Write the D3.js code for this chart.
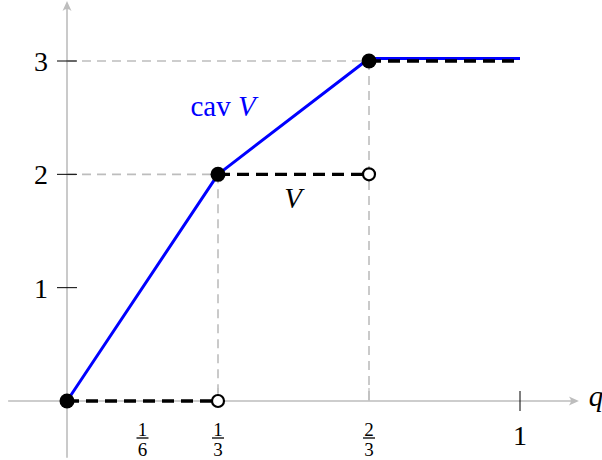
<!DOCTYPE html>
<html>
<head>
<meta charset="utf-8">
<script src="https://cdn.jsdelivr.net/npm/d3@7"></script>
</head>
<body style="margin:0">
<svg width="602" height="460"></svg>
<script>
// cav V (concave envelope)
var cavPoints = [[0, 0], [1/3, 2], [2/3, 3], [1, 3]];
// V, piecewise constant: [x0, x1, value]
var vSteps = [[0, 1/3, 0], [1/3, 2/3, 2], [2/3, 1, 3]];
var filledDots = [[0, 0], [1/3, 2], [2/3, 3]];
var openDots = [[1/3, 0], [2/3, 2]];
var yTicks = [1, 2, 3];
var fracLabels = [{v: 1/6, n: "1", d: "6"}, {v: 1/3, n: "1", d: "3"}, {v: 2/3, n: "2", d: "3"}];
var guides = [[1/3, 2], [2/3, 3]];

var svg = d3.select("svg");
var x = d3.scaleLinear().domain([0, 1]).range([67, 520]);
var y = d3.scaleLinear().domain([0, 3]).range([401, 61]);
var gray = "#bdbdbd";

function label(px, py, size, str) {
    return svg.append("text")
	.attr("x", px).attr("y", py)
	.attr("text-anchor", "middle")
	.attr("font-family", "Liberation Serif")
	.attr("font-size", size)
	.text(str);
}

// guides
guides.forEach(function(g) {
    svg.append("line")
	.attr("x1", x(0)).attr("x2", x(g[0]))
	.attr("y1", y(g[1])).attr("y2", y(g[1]))
	.attr("stroke", gray).attr("stroke-width", 1.6).attr("stroke-dasharray", "9,6");
    svg.append("line")
	.attr("x1", x(g[0])).attr("x2", x(g[0]))
	.attr("y1", y(g[1])).attr("y2", y(0))
	.attr("stroke", gray).attr("stroke-width", 1.6).attr("stroke-dasharray", "9,6");
});

// axes with drawn arrow heads
svg.append("line")
    .attr("x1", x(-0.13)).attr("x2", x(1.12))
    .attr("y1", y(0)).attr("y2", y(0))
    .attr("stroke", gray).attr("stroke-width", 1.6);
svg.append("path")
    .attr("transform", "translate(" + x(1.13) + "," + y(0) + ")")
    .attr("d", "M0,0L-10,-4.5Q-6,0 -10,4.5Z")
    .attr("fill", gray);
svg.append("line")
    .attr("x1", x(0)).attr("x2", x(0))
    .attr("y1", y(-0.5)).attr("y2", y(3.5))
    .attr("stroke", gray).attr("stroke-width", 1.6);
svg.append("path")
    .attr("transform", "translate(" + x(0) + "," + y(3.53) + ")")
    .attr("d", "M0,0L-4.5,10Q0,6 4.5,10Z")
    .attr("fill", gray);

// y ticks
yTicks.forEach(function(t) {
    svg.append("line")
	.attr("x1", x(0) - 10).attr("x2", x(0) + 10)
	.attr("y1", y(t)).attr("y2", y(t))
	.attr("stroke", "#000").attr("stroke-width", 1);
    label(x(0) - 26, y(t) + 10, 28, t);
});

// x ticks
[1/3, 2/3].forEach(function(t) {
    svg.append("line")
	.attr("x1", x(t)).attr("x2", x(t))
	.attr("y1", y(0) - 13).attr("y2", y(0))
	.attr("stroke", gray).attr("stroke-width", 1.2);
});
svg.append("line")
    .attr("x1", x(1)).attr("x2", x(1))
    .attr("y1", y(0) - 10).attr("y2", y(0) + 10)
    .attr("stroke", "#000").attr("stroke-width", 1);
label(x(1), y(0) + 44, 28, "1");

fracLabels.forEach(function(f) {
    var cx = x(f.v);
    label(cx, y(0) + 35, 19, f.n);
    svg.append("line")
	.attr("x1", cx - 6).attr("x2", cx + 6)
	.attr("y1", y(0) + 37).attr("y2", y(0) + 37)
	.attr("stroke", "#000").attr("stroke-width", 1.3);
    label(cx, y(0) + 55, 19, f.d);
});

label(596, y(0) + 5, 29, "q").attr("font-style", "italic");

// cav V
var line = d3.line()
    .x(function(d) { return x(d[0]); })
    .y(function(d) { return y(d[1]) - (d[1] === 3 ? 2.5 : 0); });
svg.append("path")
    .datum(cavPoints)
    .attr("d", line)
    .attr("fill", "none")
    .attr("stroke", "#0000ff")
    .attr("stroke-width", 3)
    .attr("stroke-linejoin", "round");

// V dashed
svg.selectAll(".vstep")
    .data(vSteps)
    .enter().append("line")
    .attr("class", "vstep")
    .attr("x1", function(d) { return x(d[0]); })
    .attr("x2", function(d) { return x(d[1]); })
    .attr("y1", function(d) { return y(d[2]); })
    .attr("y2", function(d) { return y(d[2]); })
    .attr("stroke", "#000")
    .attr("stroke-width", 3.4)
    .attr("stroke-dasharray", "12,7");

// dots
svg.selectAll(".open")
    .data(openDots)
    .enter().append("circle")
    .attr("class", "open")
    .attr("cx", function(d) { return x(d[0]); })
    .attr("cy", function(d) { return y(d[1]); })
    .attr("r", 6)
    .attr("fill", "#fff")
    .attr("stroke", "#000")
    .attr("stroke-width", 2.2);
svg.selectAll(".filled")
    .data(filledDots)
    .enter().append("circle")
    .attr("class", "filled")
    .attr("cx", function(d) { return x(d[0]); })
    .attr("cy", function(d) { return y(d[1]); })
    .attr("r", 7.5)
    .attr("fill", "#000");

// labels
var cav = label(223, 116, 29, "").attr("fill", "#0000ff");
cav.append("tspan").text("cav ");
cav.append("tspan").attr("font-style", "italic").text("V");

label(293, 208, 29, "V").attr("font-style", "italic");
</script>
</body>
</html>
